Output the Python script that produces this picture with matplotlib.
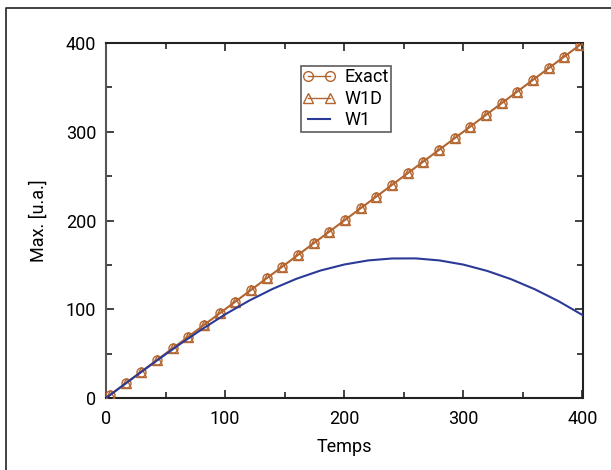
import matplotlib
matplotlib.use('Agg')
import matplotlib.pyplot as plt
from matplotlib.lines import Line2D
from matplotlib.ticker import MultipleLocator

plt.rcParams['font.family'] = ['Roboto', 'DejaVu Sans']

# marker positions of the exact / W1D series (y = t)
marker_t = [3.3, 16.5, 29.6, 42.8, 55.9, 69.1, 82.2, 95.4, 108.5, 121.7, 134.8,
            148.0, 161.1, 174.3, 187.4, 200.6, 213.7, 226.9, 240.0, 253.2, 266.3,
            279.5, 292.6, 305.8, 318.9, 332.1, 345.2, 358.4, 371.5, 384.7, 397.8]
exact_vals = list(marker_t)
w1d_vals = list(marker_t)
line_t = [0, 400]
line_y = [0, 400]

# W1 curve
w1_t = [0, 20, 40, 60, 80, 100, 120, 140, 160, 180, 200, 220, 240, 260, 280,
        300, 320, 340, 360, 380, 400]
w1_y = [0, 19.9, 39.6, 58.8, 77.0, 94.2, 109.6, 123.0, 134.4, 143.6, 150.4,
        155.0, 157.2, 157.3, 155.0, 150.3, 143.2, 133.9, 122.5, 109.0, 93.5]

brown = '#b3652f'
blue = '#2b3a96'

fig = plt.figure(figsize=(6.11, 4.70), dpi=100)
ax = fig.add_axes([106/611, 1-398/470, 476.5/611, 355/470])

# outer frame of the figure (only left and top edges are visible)
fx, fy = 5.5/611, 1 - 7.5/470
fig.add_artist(Line2D([fx, fx, 1.0], [0.0, fy, fy], transform=fig.transFigure,
                      color='#333333', lw=1.3))

ax.plot(line_t, line_y, c=brown, lw=1.5, zorder=2)
ax.plot(marker_t, exact_vals, ls='none', marker='o', ms=6.5, mfc='none', mec=brown, mew=1.0, zorder=3)
ax.plot(marker_t, w1d_vals, ls='none', marker='^', ms=6.5, mfc='none', mec=brown, mew=1.0, zorder=3)
ax.plot(w1_t, w1_y, c=blue, lw=1.5, zorder=4)

# legend proxies
h1, = ax.plot([], [], c=brown, lw=1.0, marker='o', ms=7, mfc='none', mec=brown, mew=1.0)
h2, = ax.plot([], [], c=brown, lw=1.0, marker='^', ms=7, mfc='none', mec=brown, mew=1.0)
h3, = ax.plot([], [], c=blue, lw=1.5)
leg = ax.legend([h1, h2, h3], ['Exact', 'W1D', 'W1'], loc='upper center',
                bbox_to_anchor=(0.503, 0.935), borderaxespad=0, fontsize=13, frameon=True,
                fancybox=False, edgecolor='#333333', handlelength=1.8, handletextpad=0.5,
                labelspacing=0.2, borderpad=0.12, numpoints=2)
leg.get_frame().set_linewidth(1.2)

ax.set_xlim(0, 400)
ax.set_ylim(0, 400)
ax.set_xticks([0, 100, 200, 300, 400])
ax.set_yticks([0, 100, 200, 300, 400])
ax.xaxis.set_minor_locator(MultipleLocator(50))
ax.yaxis.set_minor_locator(MultipleLocator(50))
ax.tick_params(which='both', direction='in', top=True, right=True, labelsize=13,
               width=1.2, color='#222222')
ax.tick_params(axis='x', pad=9)
ax.tick_params(axis='y', pad=7)
ax.tick_params(which='major', length=6)
ax.tick_params(which='minor', length=4.5)

for s in ax.spines.values():
    s.set_linewidth(1.5)
    s.set_color('#222222')
ax.spines['left'].set_color('#555555')

ax.set_xlabel('Temps', fontsize=13, labelpad=7)
ax.set_ylabel('Max. [u.a.]', fontsize=13, labelpad=13)

fig.savefig('out.png', dpi=100)
